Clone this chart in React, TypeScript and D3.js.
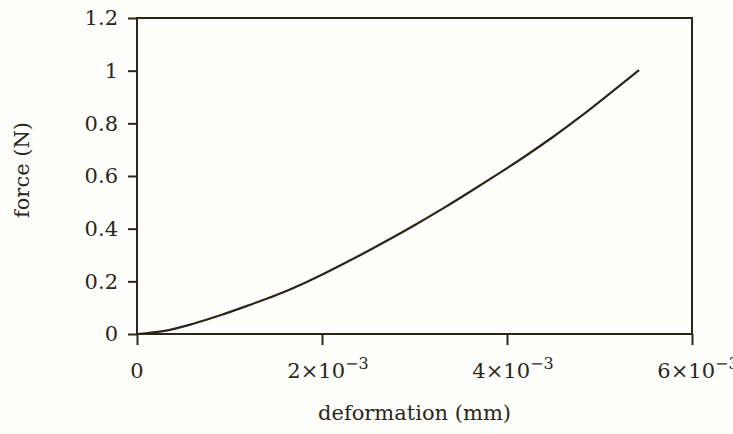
import React, { useEffect, useRef } from "react";
import * as d3 from "d3";

// deformation (mm) and force (N)
const deformation = [0, 0.0003, 0.0006, 0.0009, 0.0012, 0.0015, 0.0018, 0.0021, 0.0024, 0.0027, 0.003, 0.0033, 0.0036, 0.0039, 0.0042, 0.0045, 0.0048, 0.0051, 0.00542];
const force = [0, 0.012, 0.038, 0.071, 0.108, 0.147, 0.192, 0.243, 0.297, 0.354, 0.413, 0.475, 0.54, 0.607, 0.676, 0.749, 0.827, 0.91, 1.0];

const xTicks = [0, 0.002, 0.004, 0.006];
const xTickMantissa = ["0", "2", "4", "6"];
const yTicks = [0, 0.2, 0.4, 0.6, 0.8, 1, 1.2];
const yTickLabels = ["0", "0.2", "0.4", "0.6", "0.8", "1", "1.2"];

export default function App() {
    const svgRef = useRef<SVGSVGElement>(null);

    useEffect(() => {
        const svg = d3.select(svgRef.current);
        const width = 733;
        const height = 434;
        const margin = { top: 18, right: 41, bottom: 100, left: 137 };
        const ink = "#2b261b";
        const font = "'DejaVu Serif', 'Liberation Serif', serif";

        svg.selectAll("*").remove();
        svg.append("rect").attr("width", width).attr("height", height).attr("fill", "#fefefc");

        const x = d3.scaleLinear().domain([0, 0.006]).range([margin.left, width - margin.right]);
        const y = d3.scaleLinear().domain([0, 1.2]).range([height - margin.bottom, margin.top]);

        // frame
        svg
            .append("rect")
            .attr("x", x(0))
            .attr("y", y(1.2))
            .attr("width", x(0.006) - x(0))
            .attr("height", y(0) - y(1.2))
            .attr("fill", "none")
            .attr("stroke", ink)
            .attr("stroke-width", 2);

        // y axis
        const yAxis = svg
            .append("g")
            .attr("transform", `translate(${x(0)},0)`)
            .call(d3.axisLeft(y).tickValues(yTicks).tickSize(9).tickPadding(10).tickFormat((d, i) => yTickLabels[i]));
        yAxis.select(".domain").remove();
        yAxis.selectAll("line").attr("stroke", ink).attr("stroke-width", 2);
        yAxis
            .selectAll("text")
            .attr("fill", ink)
            .style("font-family", font)
            .style("font-size", "21px");

        // x axis
        const xAxis = svg
            .append("g")
            .attr("transform", `translate(0,${y(0)})`)
            .call(d3.axisBottom(x).tickValues(xTicks).tickSize(11).tickFormat(() => ""));
        xAxis.select(".domain").remove();
        xAxis.selectAll("line").attr("stroke", ink).attr("stroke-width", 2);

        // x tick labels with superscript exponent
        xTicks.forEach((t, i) => {
            const label = svg
                .append("text")
                .attr("x", x(t) + (t === 0 ? 0 : 6))
                .attr("y", y(0) + 44)
                .attr("text-anchor", "middle")
                .attr("fill", ink)
                .style("font-family", font)
                .style("font-size", "21px");
            if (t === 0) {
                label.text("0");
            } else {
                label.append("tspan").text(`${xTickMantissa[i]}×10`);
                label.append("tspan").attr("dy", -9).style("font-size", "16px").text("−3");
            }
        });

        // curve
        const line = d3
            .line<number>()
            .x((d) => x(d))
            .y((d, i) => y(force[i]))
            .curve(d3.curveCatmullRom);
        svg
            .append("path")
            .datum(deformation)
            .attr("d", line)
            .attr("fill", "none")
            .attr("stroke", ink)
            .attr("stroke-width", 2.2)
            .attr("stroke-linecap", "round");

        // axis titles
        svg
            .append("text")
            .attr("x", (x(0) + x(0.006)) / 2)
            .attr("y", 420)
            .attr("text-anchor", "middle")
            .attr("fill", ink)
            .style("font-family", font)
            .style("font-size", "21px")
            .text("deformation (mm)");
        svg
            .append("text")
            .attr("transform", `translate(29,170) rotate(-90)`)
            .attr("text-anchor", "middle")
            .attr("fill", ink)
            .style("font-family", font)
            .style("font-size", "21px")
            .text("force (N)");
    }, []);

    return (
        <svg
            ref={svgRef}
            width={733}
            height={434}
            style={{ position: "absolute", left: 0, top: 0, display: "block" }}
        ></svg>
    );
}
